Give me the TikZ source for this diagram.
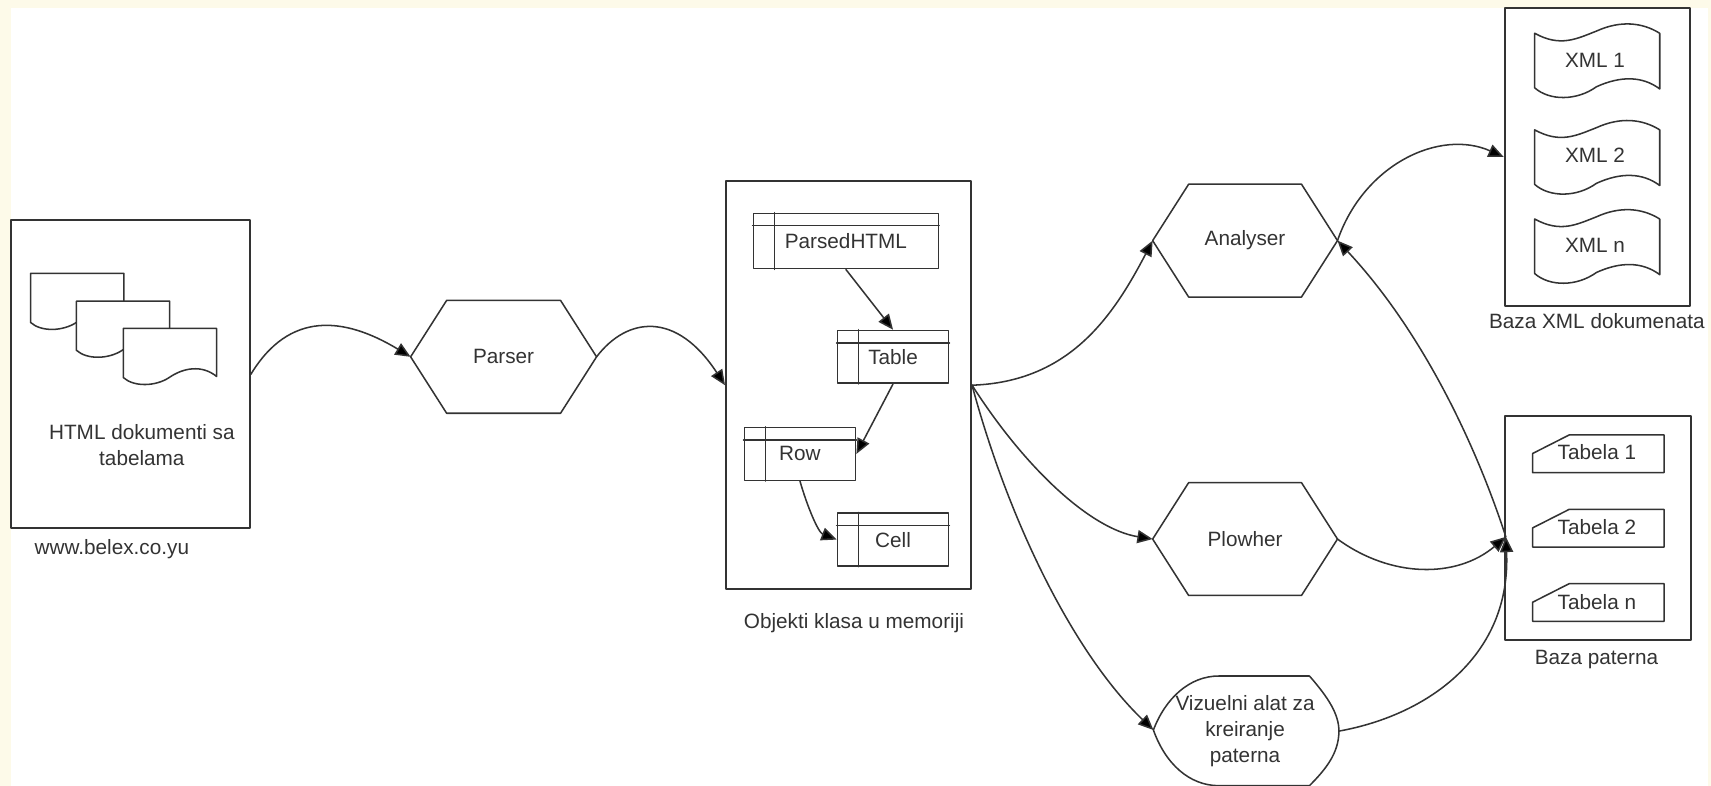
\documentclass[tikz,border=0pt]{standalone}
\usepackage{fontspec}
\setmainfont{Liberation Sans}
\usetikzlibrary{arrows.meta}
\definecolor{creamedge}{HTML}{FDFAE9}
\definecolor{inkgray}{HTML}{333333}
\tikzset{
  boxnode/.style={draw,rectangle,inner sep=0pt},
  basenode/.style={boxnode,line width=1.8pt},
  hexnode/.style={rectangle,inner sep=0pt,minimum width=169pt,minimum height=102pt},
  textnode/.style={inner sep=0pt,align=center}
}
\begin{document}
\begin{tikzpicture}[line cap=round,line join=round,>={Triangle[length=14pt,width=12pt,fill=black]},x=1pt,y=-1pt,
  every node/.style={font=\fontsize{19}{24}\selectfont,text=inkgray}]
\useasboundingbox (0,0) rectangle (1568,720);
\fill [creamedge] (0,0) rectangle (1568,720);
\fill [white] (10,7) rectangle (1565,720);
\begin{scope}[every path/.style={draw=inkgray,line width=1.4pt}]
% sources
\node [basenode,minimum width=219pt,minimum height=282pt] (html) at (119.5,343) {};
\foreach \x/\y in {28/250.5,70/276,113/301}
  \draw [fill=white] (\x,\y)--(\x+85.5,\y)--(\x+85.5,\y+44) .. controls (\x+72,\y+33) and (\x+55,\y+36) .. (\x+42,\y+45) .. controls (\x+30,\y+53) and (\x+10,\y+54) .. (\x,\y+45)--cycle;
\node [textnode] (htmltext) at (130,408) {HTML dokumenti sa\\tabelama};
\node [textnode] (htmlname) at (102.5,503) {www.belex.co.yu};
% hexagons
\node [hexnode] (parser) at (461.5,327) {Parser};
\node [hexnode,minimum width=168pt] (analyser) at (1141,220.5) {Analyser};
\node [hexnode,minimum width=168pt] (plowher) at (1141,494) {Plowher};
\foreach \n in {parser,analyser,plowher}
  \draw (\n.west)--([xshift=33pt]\n.north west)--([xshift=-33pt]\n.north east)--(\n.east)--([xshift=-33pt]\n.south east)--([xshift=33pt]\n.south west)--cycle;
% objects
\node [basenode,minimum width=224.6pt,minimum height=374pt] (objects) at (777.6,353) {};
\node [boxnode,minimum width=169.6pt,minimum height=50.7pt] (parsed) at (775.2,220.9) {ParsedHTML};
\node [boxnode,minimum width=102pt,minimum height=48.3pt] (table) at (818.4,327) {Table};
\node [boxnode,minimum width=102pt,minimum height=48.3pt] (row) at (733.1,416) {Row};
\node [boxnode,minimum width=102pt,minimum height=48.3pt] (cell) at (818.4,494.5) {Cell};
\foreach \n in {parsed,table,row,cell} {
  \draw ([yshift=-12pt]\n.north west)--([yshift=-12pt]\n.north east);
  \draw ([xshift=20pt]\n.north west)--([xshift=20pt]\n.south west);
}
\node [textnode] (objectsname) at (782.6,570.6) {Objekti klasa u memoriji};
\draw [->] (parsed.south)--(table.north);
\draw [->] (table.south)--(row.east);
\draw [->] (row.south) .. controls (740,465) and (750,488) .. (cell.west);
% xml base
\node [basenode,minimum width=169.4pt,minimum height=272.4pt] (xmlbase) at (1463.6,143.8) {};
\node [textnode] (xmlone) at (1461.7,55) {XML 1};
\node [textnode] (xmltwo) at (1461.7,142) {XML 2};
\node [textnode] (xmlthree) at (1461.7,224.5) {XML n};
\foreach \y in {30.5,119,200.7} {
  \draw (1406.4,\y) .. controls (1430,\y+13) and (1445,\y+5) .. (1463,\y-2) .. controls (1485,\y-12) and (1505,\y-10) .. (1521,\y)
    --(1521,\y+51) .. controls (1505,\y+39) and (1485,\y+39) .. (1463,\y+49) .. controls (1445,\y+62) and (1420,\y+62) .. (1406.4,\y+50)--cycle;
}
\node [textnode] (xmlname) at (1463.4,294) {Baza XML dokumenata};
% pattern base
\node [basenode,minimum width=170.5pt,minimum height=204.7pt] (patbase) at (1464.7,484) {};
\coordinate (patin) at (1380,492);
\foreach \y in {398.6,466.8,534.9}
  \draw (1404.5,\y+17)--(1438,\y)--(1525,\y)--(1525,\y+34.5)--(1404.5,\y+34.5)--cycle;
\node [textnode] (tabone) at (1463.4,414.5) {Tabela 1};
\node [textnode] (tabtwo) at (1463.4,482.6) {Tabela 2};
\node [textnode] (tabthree) at (1463.4,551.4) {Tabela n};
\node [textnode] (patname) at (1463,604.8) {Baza paterna};
% tool
\node [textnode] (tool) at (1141,670) {Vizuelni alat za\\kreiranje\\paterna};
\coordinate (toolwest) at (1057,669);
\coordinate (tooleast) at (1227,670);
\draw (toolwest) .. controls (1068,640) and (1090,619.5) .. (1117,619.5)--(1200,619.5) .. controls (1218,640) and (1227,655) .. (tooleast) .. controls (1227,690) and (1215,705) .. (1200,720)--(1117,720) .. controls (1090,720) and (1068,700) .. (toolwest);
% connectors
\draw [->] (html.east) .. controls (265,285) and (315,290) .. (parser.west);
\draw [->] (parser.east) .. controls (575,290) and (620,285) .. (objects.west);
\draw [->] (objects.east) .. controls (980,350) and (1020,290) .. (analyser.west);
\draw [->] (objects.east) .. controls (940,430) and (1000,485) .. (plowher.west);
\draw [->] (objects.east) .. controls (925,480) and (985,600) .. (toolwest);
\draw [->] (analyser.east) .. controls (1250,150) and (1320,118) .. (xmlbase.west);
\draw [->] (patin) .. controls (1350,400) and (1300,300) .. (analyser.east);
\draw [->] (plowher.east) .. controls (1275,530) and (1335,530) .. (patin);
\draw [->] (tooleast) .. controls (1310,655) and (1385,600) .. (patin);
\end{scope}
\end{tikzpicture}
\end{document}
